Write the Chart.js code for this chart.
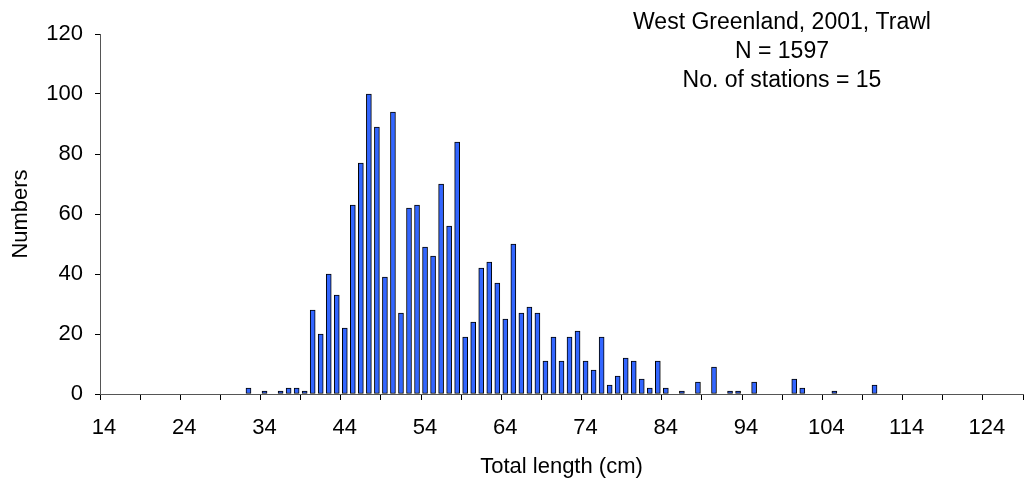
<!DOCTYPE html>
<html>
<head>
<meta charset="utf-8">
<script src="https://cdn.jsdelivr.net/npm/chart.js@4.4.1/dist/chart.umd.min.js"></script>
<style>
  html, body { margin: 0; padding: 0; background: #fff; }
  #wrap { width: 1026px; height: 482px; }
</style>
</head>
<body>
<div id="wrap"><canvas id="myChartLength"></canvas></div>
<script>
// total length classes (cm), 14..128
const lengths = [
    14, 15, 16, 17, 18, 19, 20, 21, 22, 23, 24, 25, 26, 27, 28, 29, 30, 31, 32, 33,
    34, 35, 36, 37, 38, 39, 40, 41, 42, 43, 44, 45, 46, 47, 48, 49, 50, 51, 52, 53,
    54, 55, 56, 57, 58, 59, 60, 61, 62, 63, 64, 65, 66, 67, 68, 69, 70, 71, 72, 73,
    74, 75, 76, 77, 78, 79, 80, 81, 82, 83, 84, 85, 86, 87, 88, 89, 90, 91, 92, 93,
    94, 95, 96, 97, 98, 99, 100, 101, 102, 103, 104, 105, 106, 107, 108, 109, 110, 111, 112, 113,
    114, 115, 116, 117, 118, 119, 120, 121, 122, 123, 124, 125, 126, 127, 128
];

// numbers per length class
const numbers = [
    0, 0, 0, 0, 0, 0, 0, 0, 0, 0, 0, 0, 0, 0, 0, 0, 0, 0, 2, 0,
    1, 0, 1, 2, 2, 1, 28, 20, 40, 33, 22, 63, 77, 100, 89, 39, 94, 27, 62, 63,
    49, 46, 70, 56, 84, 19, 24, 42, 44, 37, 25, 50, 27, 29, 27, 11, 19, 11, 19, 21,
    11, 8, 19, 3, 6, 12, 11, 5, 2, 11, 2, 0, 1, 0, 4, 0, 9, 0, 1, 1,
    0, 4, 0, 0, 0, 0, 5, 2, 0, 0, 0, 1, 0, 0, 0, 0, 3, 0, 0, 0,
    0, 0, 0, 0, 0, 0, 0, 0, 0, 0, 0, 0, 0, 0, 0
];

const labelEvery = 10;
const tickEvery = 5;
const yTicks = [0, 20, 40, 60, 80, 100, 120];
const infoLines = ["West Greenland, 2001, Trawl", "N = 1597", "No. of stations = 15"];

const fontFamily = "'Liberation Sans', Arial, sans-serif";
Chart.defaults.font.family = fontFamily;
Chart.defaults.font.size = 22;
Chart.defaults.color = '#000';

const infoText = {
    id: 'infoText',
    afterDraw(chart) {
        const c = chart.ctx;
        c.save();
        c.font = "23px " + fontFamily;
        c.fillStyle = '#000';
        c.textAlign = 'center';
        c.textBaseline = 'middle';
        infoLines.forEach((t, i) => c.fillText(t, 782, 23 + i * 29));
        c.restore();
    }
};

const ctx = document.getElementById('myChartLength').getContext('2d');
new Chart(ctx, {
    type: 'bar',
    data: {
        labels: lengths,
        datasets: [
            {
                label: 'Numbers',
                data: numbers,
                backgroundColor: '#3366ff',
                borderColor: '#000',
                borderWidth: 1,
                borderSkipped: false,
                barThickness: 5
            }
        ]
    },
    options: {
        responsive: true,
        maintainAspectRatio: false,
        animation: false,
        layout: { padding: { top: 34, right: 3, bottom: 0, left: 0 } },
        plugins: {
            legend: { display: false },
            tooltip: { enabled: false }
        },
        scales: {
            x: {
                offset: true,
                grid: {
                    offset: true,
                    drawOnChartArea: false,
                    drawTicks: true,
                    tickLength: 6,
                    color: c => (c.index === undefined || c.index % tickEvery === 0) ? '#000' : 'rgba(0,0,0,0)'
                },
                border: { display: true, color: '#555', width: 1 },
                ticks: {
                    autoSkip: false,
                    maxRotation: 0,
                    padding: 15,
                    callback: (v, i) => (i % labelEvery === 0) ? lengths[i] : ''
                },
                title: { display: true, text: 'Total length (cm)', padding: { top: 2, bottom: 2 } },
                afterFit: s => { s.height = 88; s.paddingLeft = 0; s.paddingRight = 0; }
            },
            y: {
                min: 0,
                max: 120,
                afterBuildTicks: s => { s.ticks = yTicks.map(v => ({ value: v })); },
                grid: { drawOnChartArea: false, drawTicks: true, tickLength: 5, color: '#000' },
                border: { display: true, color: '#555', width: 1 },
                ticks: { padding: 12 },
                title: { display: true, text: 'Numbers', padding: { top: 8, bottom: 0 } },
                afterFit: s => { s.width = 100; s.paddingTop = 0; s.paddingBottom = 0; }
            }
        }
    },
    plugins: [infoText]
});
</script>
</body>
</html>
